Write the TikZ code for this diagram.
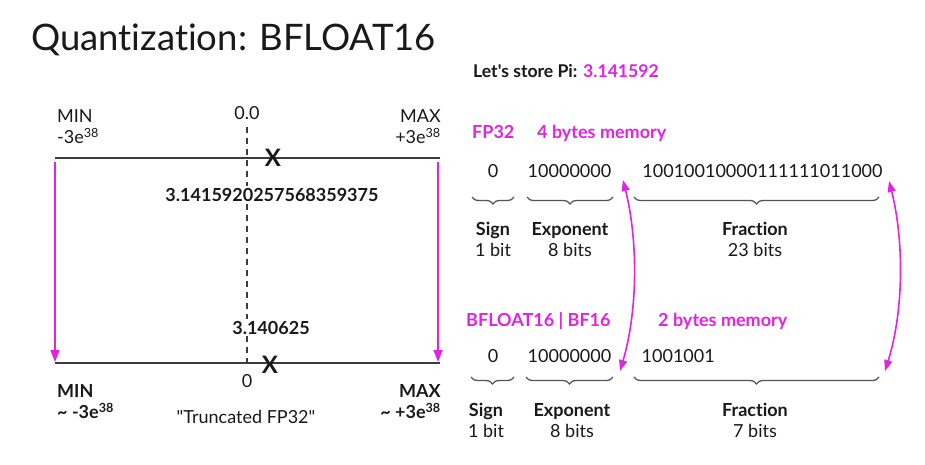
\documentclass[tikz,border=0pt]{standalone}
\usepackage{fontspec}
\setmainfont{Lato}[Ligatures=NoCommon]
\newfontfamily\latoplain{Lato}[Ligatures=NoCommon]
\usetikzlibrary{arrows.meta,decorations.pathreplacing}
\definecolor{pk}{RGB}{226,36,226}
\definecolor{ink}{RGB}{25,25,25}
\definecolor{brc}{RGB}{85,85,85}
\begin{document}
\begin{tikzpicture}[x=1pt,y=-1pt,
  every node/.style={inner sep=0pt,text=ink,font=\fontsize{18}{20}\selectfont},
  txt/.style={anchor=base},
  bld/.style={anchor=base,font=\fontsize{18}{20}\selectfont\bfseries},
  pktxt/.style={anchor=base west,text=pk,font=\fontsize{18}{20}\selectfont\bfseries},
  axis/.style={line width=1.8pt,draw=ink!85},
  zeroline/.style={line width=1.1pt,draw=ink!85,dash pattern=on 6pt off 5pt},
  pkarrow/.style={line width=1.6pt,draw=pk,-{Triangle[length=12pt,width=9pt]}},
  pkcurve/.style={line width=1.6pt,draw=pk,{Triangle[length=11pt,width=8pt]}-{Triangle[length=11pt,width=8pt]}},
  brace/.style={draw=brc,line width=1.3pt,decorate,decoration={brace,mirror,amplitude=7pt}},
  xmark/.style={font=\fontsize{24}{24}\selectfont\bfseries}
]
\useasboundingbox (0,0) rectangle (925,464);
\fill[white] (0,0) rectangle (925,464);

% title
\node[anchor=base west,font=\latoplain\fontsize{36.5}{40}\selectfont] (title) at (31,50.7) {Quantization: BFLOAT16};
\node[anchor=base west,font=\latoplain\fontsize{17.6}{20}\selectfont\bfseries] (pi) at (473,77.3) {Let's store Pi: \textcolor{pk}{3.141592}};

% ---------- left: number lines ----------
\coordinate (tl) at (55,158);
\coordinate (tr) at (440,158);
\coordinate (bl) at (55,363);
\coordinate (br) at (440,363);
\coordinate (zt) at (247,127);
\coordinate (zb) at (247,363);

\draw[zeroline] (zt) -- (zb);
\draw[axis] (tl) -- (tr);
\draw[axis] (bl) -- (br);

\node[txt] (zero) at (247,119.3) {0.0};
\node[anchor=base west] (minT) at (57,122.3) {MIN};
\node[anchor=base west] (minTv) at (57,143.3) {-3e\textsuperscript{38}};
\node[anchor=base east] (maxT) at (441,122.3) {MAX};
\node[anchor=base east] (maxTv) at (441,143.3) {+3e\textsuperscript{38}};

\node[xmark] (x1) at (273,158) {X};
\node[bld,fill=white,inner sep=2pt] (pifull) at (272,201) {3.1415920257568359375};

\node[bld,fill=white,inner sep=2pt] (pibf) at (271,334.3) {3.140625};
\node[xmark] (x2) at (270,365) {X};
\node[txt] (zeroB) at (247,387.3) {0};

\node[anchor=base west,font=\fontsize{18}{20}\selectfont\bfseries] (minB) at (57,397.3) {MIN};
\node[anchor=base west,font=\fontsize{18}{20}\selectfont\bfseries] (minBv) at (57,418.3) {\textasciitilde{} -3e\textsuperscript{38}};
\node[anchor=base east,font=\fontsize{18}{20}\selectfont\bfseries] (maxB) at (441,397.3) {MAX};
\node[anchor=base east,font=\fontsize{18}{20}\selectfont\bfseries] (maxBv) at (441,418.3) {\textasciitilde{} +3e\textsuperscript{38}};
\node[txt,font=\latoplain\fontsize{18}{20}\selectfont] (trunc) at (246,423.3) {"Truncated FP32"};

\coordinate (at1) at (55,162);
\coordinate (ab1) at (55,362);
\coordinate (at2) at (438,162);
\coordinate (ab2) at (438,362);
\draw[pkarrow] (at1) -- (ab1);
\draw[pkarrow] (at2) -- (ab2);

% ---------- right: FP32 ----------
\node[pktxt] (fp32) at (472,138.3) {FP32};
\node[pktxt] (mem4) at (537,138.3) {4 bytes memory};

\node[txt] (s1) at (493,177.7) {0};
\node[txt] (e1) at (569.5,177.7) {10000000};
\node[txt] (f1) at (762.5,177.7) {10010010000111111011000};

\draw[brace] (472,197) -- node[below=10pt] (sb1) {} (514,197);
\draw[brace] (527,197) -- node[below=10pt] (eb1) {} (613,197);
\draw[brace] (634,197) -- node[below=10pt] (fb1) {} (879,197);

\node[bld] (sl1) at (493,235) {Sign};
\node[txt] (sv1) at (493,256.7) {1 bit};
\node[bld] (el1) at (570,235) {Exponent};
\node[txt] (ev1) at (570,256.7) {8 bits};
\node[bld] (fl1) at (755,235) {Fraction};
\node[txt] (fv1) at (755,256.7) {23 bits};

% ---------- right: BF16 ----------
\node[pktxt] (bf16) at (466,326) {BFLOAT16 | BF16};
\node[pktxt] (mem2) at (658,326) {2 bytes memory};

\node[txt] (s2) at (493,362) {0};
\node[txt] (e2) at (569.5,362) {10000000};
\node[anchor=base west] (f2) at (641.5,362) {1001001};

\draw[brace] (471,377) -- node[below=10pt] (sb2) {} (514,377);
\draw[brace] (526,377) -- node[below=10pt] (eb2) {} (613,377);
\draw[brace] (634,377) -- node[below=10pt] (fb2) {} (879,377);

\node[bld] (sl2) at (486,416) {Sign};
\node[txt] (sv2) at (486,437) {1 bit};
\node[bld] (el2) at (572,416) {Exponent};
\node[txt] (ev2) at (572,437) {8 bits};
\node[bld] (fl2) at (755,416) {Fraction};
\node[txt] (fv2) at (755,437) {7 bits};

% ---------- curved double arrows ----------
\coordinate (c1t) at (623,180);
\coordinate (c1b) at (620,371);
\coordinate (c2t) at (889,181);
\coordinate (c2b) at (885,371);
\draw[pkcurve] (c1t) .. controls (638,240) and (638,310) .. (c1b);
\draw[pkcurve] (c2t) .. controls (904,240) and (904,310) .. (c2b);
\end{tikzpicture}
\end{document}
